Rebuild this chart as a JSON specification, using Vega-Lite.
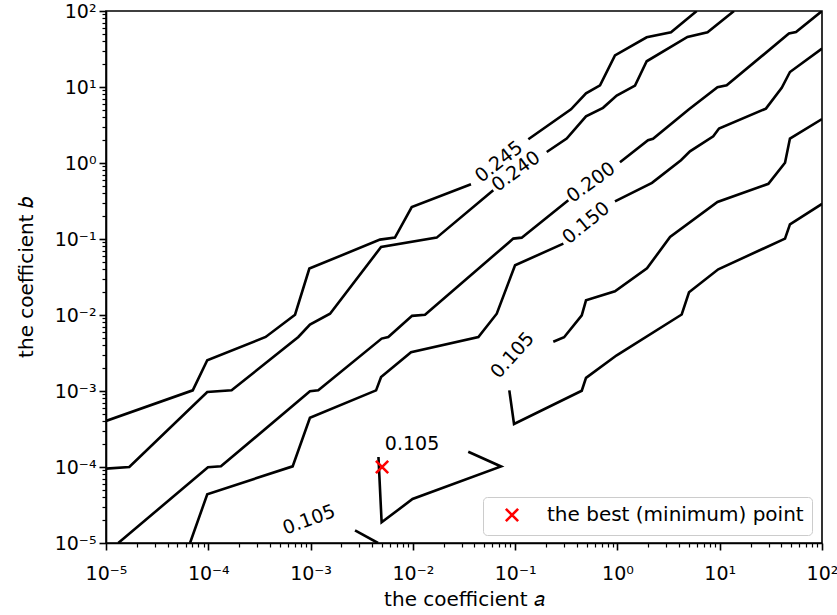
{
  "$schema": "https://vega.github.io/schema/vega-lite/v6.json",
  "autosize": {"type": "none"},
  "width": 716,
  "height": 532,
  "padding": {"left": 106, "top": 11, "right": 15, "bottom": 72},
  "background": "white",
  "config": {
    "view": {"stroke": "black", "strokeWidth": 1.6},
    "font": "DejaVu Sans",
    "axis": {
      "labelFont": "DejaVu Sans", "labelFontSize": 19, "labelColor": "black",
      "titleFont": "DejaVu Sans", "titleFontSize": 20, "titleColor": "black", "titleFontWeight": "normal",
      "grid": false, "domainColor": "black", "domainWidth": 1.6, "tickColor": "black",
      "labelOverlap": false, "labelFlush": false, "labelBound": false
    },
    "legend": {
      "orient": "none", "legendX": 377, "legendY": 486, "padding": 8,
      "strokeColor": "#cccccc", "fillColor": "rgba(255,255,255,0.8)", "cornerRadius": 4,
      "labelFont": "DejaVu Sans", "labelFontSize": 20, "labelColor": "black", "labelLimit": 0,
      "symbolSize": 150, "symbolStrokeWidth": 2.6, "symbolOffset": 11, "labelOffset": 25
    }
  },
  "datasets": {
    "contours": [
      {"seg": "A1", "i": 0, "a": 1e-5, "b": 4.03e-4},
      {"seg": "A1", "i": 1, "a": 7.05e-5, "b": 1.02e-3},
      {"seg": "A1", "i": 2, "a": 9.77e-5, "b": 2.535e-3},
      {"seg": "A1", "i": 3, "a": 3.64e-4, "b": 5.14e-3},
      {"seg": "A1", "i": 4, "a": 7.05e-4, "b": 1.01e-2},
      {"seg": "A1", "i": 5, "a": 9.73e-4, "b": 4.08e-2},
      {"seg": "A1", "i": 6, "a": 4.77e-3, "b": 9.82e-2},
      {"seg": "A1", "i": 7, "a": 6.68e-3, "b": 0.1042},
      {"seg": "A1", "i": 8, "a": 9.75e-3, "b": 0.2636},
      {"seg": "A1", "i": 9, "a": 3.70e-2, "b": 0.525},
      {"seg": "A2", "i": 0, "a": 0.1346, "b": 2.051},
      {"seg": "A2", "i": 1, "a": 0.3516, "b": 5.09},
      {"seg": "A2", "i": 2, "a": 0.493, "b": 8.26},
      {"seg": "A2", "i": 3, "a": 0.676, "b": 10.52},
      {"seg": "A2", "i": 4, "a": 0.946, "b": 26.1},
      {"seg": "A2", "i": 5, "a": 1.932, "b": 45.1},
      {"seg": "A2", "i": 6, "a": 3.34, "b": 52.5},
      {"seg": "A2", "i": 7, "a": 5.96, "b": 100},
      {"seg": "B1", "i": 0, "a": 1e-5, "b": 9.53e-5},
      {"seg": "B1", "i": 1, "a": 1.69e-5, "b": 1.0e-4},
      {"seg": "B1", "i": 2, "a": 9.77e-5, "b": 9.70e-4},
      {"seg": "B1", "i": 3, "a": 1.69e-4, "b": 1.02e-3},
      {"seg": "B1", "i": 4, "a": 7.59e-4, "b": 5.14e-3},
      {"seg": "B1", "i": 5, "a": 9.86e-4, "b": 7.48e-3},
      {"seg": "B1", "i": 6, "a": 1.55e-3, "b": 1.04e-2},
      {"seg": "B1", "i": 7, "a": 4.89e-3, "b": 7.85e-2},
      {"seg": "B1", "i": 8, "a": 1.71e-2, "b": 0.1042},
      {"seg": "B1", "i": 9, "a": 6.11e-2, "b": 0.4375},
      {"seg": "B2", "i": 0, "a": 0.2037, "b": 1.396},
      {"seg": "B2", "i": 1, "a": 0.319, "b": 2.094},
      {"seg": "B2", "i": 2, "a": 0.493, "b": 4.11},
      {"seg": "B2", "i": 3, "a": 0.723, "b": 5.32},
      {"seg": "B2", "i": 4, "a": 0.984, "b": 7.71},
      {"seg": "B2", "i": 5, "a": 1.486, "b": 10.43},
      {"seg": "B2", "i": 6, "a": 1.932, "b": 21.8},
      {"seg": "B2", "i": 7, "a": 4.84, "b": 45.5},
      {"seg": "B2", "i": 8, "a": 7.60, "b": 52.5},
      {"seg": "B2", "i": 9, "a": 13.8, "b": 100},
      {"seg": "C1", "i": 0, "a": 1.318e-5, "b": 1e-5},
      {"seg": "C1", "i": 1, "a": 9.93e-5, "b": 9.91e-5},
      {"seg": "C1", "i": 2, "a": 1.33e-4, "b": 1.02e-4},
      {"seg": "C1", "i": 3, "a": 9.86e-4, "b": 9.91e-4},
      {"seg": "C1", "i": 4, "a": 1.19e-3, "b": 1.02e-3},
      {"seg": "C1", "i": 5, "a": 4.95e-3, "b": 4.89e-3},
      {"seg": "C1", "i": 6, "a": 5.75e-3, "b": 5.14e-3},
      {"seg": "C1", "i": 7, "a": 9.82e-3, "b": 9.75e-3},
      {"seg": "C1", "i": 8, "a": 1.315e-2, "b": 1.01e-2},
      {"seg": "C1", "i": 9, "a": 9.59e-2, "b": 0.1012},
      {"seg": "C1", "i": 10, "a": 0.1159, "b": 0.1042},
      {"seg": "C1", "i": 11, "a": 0.331, "b": 0.323},
      {"seg": "C2", "i": 0, "a": 1.059, "b": 1.021},
      {"seg": "C2", "i": 1, "a": 1.991, "b": 1.99},
      {"seg": "C2", "i": 2, "a": 2.228, "b": 2.08},
      {"seg": "C2", "i": 3, "a": 5.01, "b": 5.09},
      {"seg": "C2", "i": 4, "a": 9.51, "b": 9.91},
      {"seg": "C2", "i": 5, "a": 11.7, "b": 10.52},
      {"seg": "C2", "i": 6, "a": 47.5, "b": 50.5},
      {"seg": "C2", "i": 7, "a": 55.7, "b": 52.9},
      {"seg": "C2", "i": 8, "a": 100, "b": 100},
      {"seg": "D1", "i": 0, "a": 6.63e-5, "b": 1e-5},
      {"seg": "D1", "i": 1, "a": 9.77e-5, "b": 4.375e-5},
      {"seg": "D1", "i": 2, "a": 6.68e-4, "b": 1.02e-4},
      {"seg": "D1", "i": 3, "a": 9.86e-4, "b": 4.44e-4},
      {"seg": "D1", "i": 4, "a": 4.37e-3, "b": 1.02e-3},
      {"seg": "D1", "i": 5, "a": 4.89e-3, "b": 1.528e-3},
      {"seg": "D1", "i": 6, "a": 9.60e-3, "b": 3.23e-3},
      {"seg": "D1", "i": 7, "a": 4.37e-2, "b": 5.14e-3},
      {"seg": "D1", "i": 8, "a": 6.61e-2, "b": 1.04e-2},
      {"seg": "D1", "i": 9, "a": 9.98e-2, "b": 4.51e-2},
      {"seg": "D1", "i": 10, "a": 0.296, "b": 8.69e-2},
      {"seg": "D2", "i": 0, "a": 0.946, "b": 0.313},
      {"seg": "D2", "i": 1, "a": 2.178, "b": 0.548},
      {"seg": "D2", "i": 2, "a": 4.18, "b": 1.086},
      {"seg": "D2", "i": 3, "a": 5.12, "b": 1.426},
      {"seg": "D2", "i": 4, "a": 8.65, "b": 2.245},
      {"seg": "D2", "i": 5, "a": 9.84, "b": 2.836},
      {"seg": "D2", "i": 6, "a": 28.3, "b": 5.2},
      {"seg": "D2", "i": 7, "a": 40.4, "b": 9.75},
      {"seg": "D2", "i": 8, "a": 48.6, "b": 15.75},
      {"seg": "D2", "i": 9, "a": 100, "b": 32.0},
      {"seg": "E1", "i": 0, "a": 0.236, "b": 4.44e-3},
      {"seg": "E1", "i": 1, "a": 0.301, "b": 5.09e-3},
      {"seg": "E1", "i": 2, "a": 0.448, "b": 9.91e-3},
      {"seg": "E1", "i": 3, "a": 0.493, "b": 1.56e-2},
      {"seg": "E1", "i": 4, "a": 0.946, "b": 2.05e-2},
      {"seg": "E1", "i": 5, "a": 1.945, "b": 4.11e-2},
      {"seg": "E1", "i": 6, "a": 3.27, "b": 0.1062},
      {"seg": "E1", "i": 7, "a": 9.51, "b": 0.307},
      {"seg": "E1", "i": 8, "a": 29.9, "b": 0.532},
      {"seg": "E1", "i": 9, "a": 43.5, "b": 1.007},
      {"seg": "E1", "i": 10, "a": 48.6, "b": 2.094},
      {"seg": "E1", "i": 11, "a": 100, "b": 3.79},
      {"seg": "E2", "i": 0, "a": 8.77e-2, "b": 1.02e-3},
      {"seg": "E2", "i": 1, "a": 9.75e-2, "b": 3.68e-4},
      {"seg": "E2", "i": 2, "a": 0.448, "b": 1.007e-3},
      {"seg": "E2", "i": 3, "a": 0.493, "b": 1.49e-3},
      {"seg": "E2", "i": 4, "a": 0.984, "b": 2.95e-3},
      {"seg": "E2", "i": 5, "a": 4.25, "b": 1.016e-2},
      {"seg": "E2", "i": 6, "a": 5.01, "b": 1.99e-2},
      {"seg": "E2", "i": 7, "a": 9.68, "b": 3.99e-2},
      {"seg": "E2", "i": 8, "a": 43.5, "b": 0.1012},
      {"seg": "E2", "i": 9, "a": 48.6, "b": 0.156},
      {"seg": "E2", "i": 10, "a": 100, "b": 0.29},
      {"seg": "F", "i": 0, "a": 3.48e-2, "b": 1.585e-4},
      {"seg": "F", "i": 1, "a": 7.28e-2, "b": 1.016e-4},
      {"seg": "F", "i": 2, "a": 9.93e-3, "b": 3.79e-5},
      {"seg": "F", "i": 3, "a": 4.95e-3, "b": 1.87e-5},
      {"seg": "F", "i": 4, "a": 4.61e-3, "b": 1.355e-4},
      {"seg": "G", "i": 0, "a": 2.72e-3, "b": 1.47e-5},
      {"seg": "G", "i": 1, "a": 4.56e-3, "b": 1e-5}
    ],
    "labels": [
      {"id": "L245", "text": "0.245", "a": 6.95e-2, "b": 1.037},
      {"id": "L240", "text": "0.240", "a": 0.102, "b": 0.778},
      {"id": "L200", "text": "0.200", "a": 0.552, "b": 0.557},
      {"id": "L150", "text": "0.150", "a": 0.493, "b": 0.163},
      {"id": "LE", "text": "0.105", "a": 9.42e-2, "b": 2.95e-3},
      {"id": "LF", "text": "0.105", "a": 9.82e-3, "b": 2.01e-4},
      {"id": "LG", "text": "0.105", "a": 9.66e-4, "b": 2.02e-5}
    ],
    "best": [
      {"series": "the best (minimum) point", "a": 0.005, "b": 1e-4}
    ]
  },
  "layer": [
    {
      "data": {"name": "contours"},
      "mark": {"type": "line", "color": "black", "strokeWidth": 2.6, "clip": true},
      "encoding": {
        "x": {
          "field": "a", "type": "quantitative",
          "scale": {"type": "log", "domain": [1e-5, 100], "nice": false},
          "axis": {
            "title": "the coefficient 𝑎",
            "titleX": 358, "titleY": 62, "titleBaseline": "alphabetic", "titleAnchor": "middle",
            "values": [1e-5,2e-5,3e-5,4e-5,5e-5,6e-5,7e-5,8e-5,9e-5,1e-4,2e-4,3e-4,4e-4,5e-4,6e-4,7e-4,8e-4,9e-4,0.001,0.002,0.003,0.004,0.005,0.006,0.007,0.008,0.009,0.01,0.02,0.03,0.04,0.05,0.06,0.07,0.08,0.09,0.1,0.2,0.3,0.4,0.5,0.6,0.7,0.8,0.9,1,2,3,4,5,6,7,8,9,10,20,30,40,50,60,70,80,90,100],
            "labelExpr": "abs(log(datum.value)/LN10 - round(log(datum.value)/LN10)) < 0.001 ? '10' + ['⁻⁵','⁻⁴','⁻³','⁻²','⁻¹','⁰','¹','²'][round(log(datum.value)/LN10)+5] : ''",
            "tickSize": {"condition": {"test": "abs(log(datum.value)/LN10 - round(log(datum.value)/LN10)) < 0.001", "value": 7}, "value": 4},
            "tickWidth": {"condition": {"test": "abs(log(datum.value)/LN10 - round(log(datum.value)/LN10)) < 0.001", "value": 1.6}, "value": 1.2},
            "labelPadding": 14,
            "labelBaseline": "top"
          }
        },
        "y": {
          "field": "b", "type": "quantitative",
          "scale": {"type": "log", "domain": [1e-5, 100], "nice": false},
          "axis": {
            "title": "the coefficient 𝑏",
            "titleX": -74, "titleY": 266, "titleAngle": -90, "titleBaseline": "alphabetic", "titleAlign": "center",
            "values": [1e-5,2e-5,3e-5,4e-5,5e-5,6e-5,7e-5,8e-5,9e-5,1e-4,2e-4,3e-4,4e-4,5e-4,6e-4,7e-4,8e-4,9e-4,0.001,0.002,0.003,0.004,0.005,0.006,0.007,0.008,0.009,0.01,0.02,0.03,0.04,0.05,0.06,0.07,0.08,0.09,0.1,0.2,0.3,0.4,0.5,0.6,0.7,0.8,0.9,1,2,3,4,5,6,7,8,9,10,20,30,40,50,60,70,80,90,100],
            "labelExpr": "abs(log(datum.value)/LN10 - round(log(datum.value)/LN10)) < 0.001 ? '10' + ['⁻⁵','⁻⁴','⁻³','⁻²','⁻¹','⁰','¹','²'][round(log(datum.value)/LN10)+5] : ''",
            "tickSize": {"condition": {"test": "abs(log(datum.value)/LN10 - round(log(datum.value)/LN10)) < 0.001", "value": 7}, "value": 4},
            "tickWidth": {"condition": {"test": "abs(log(datum.value)/LN10 - round(log(datum.value)/LN10)) < 0.001", "value": 1.6}, "value": 1.2},
            "labelPadding": 3,
            "labelBaseline": "middle"
          }
        },
        "detail": {"field": "seg"},
        "order": {"field": "i", "type": "quantitative"}
      }
    },
    {
      "data": {"name": "labels"},
      "transform": [{"filter": "datum.id == 'L245'"}],
      "mark": {"type": "text", "angle": -38, "fontSize": 19, "font": "DejaVu Sans", "color": "black", "align": "center", "baseline": "middle"},
      "encoding": {"x": {"field": "a", "type": "quantitative"}, "y": {"field": "b", "type": "quantitative"}, "text": {"field": "text"}}
    },
    {
      "data": {"name": "labels"},
      "transform": [{"filter": "datum.id == 'L240' || datum.id == 'L200'"}],
      "mark": {"type": "text", "angle": -36, "fontSize": 19, "font": "DejaVu Sans", "color": "black", "align": "center", "baseline": "middle"},
      "encoding": {"x": {"field": "a", "type": "quantitative"}, "y": {"field": "b", "type": "quantitative"}, "text": {"field": "text"}}
    },
    {
      "data": {"name": "labels"},
      "transform": [{"filter": "datum.id == 'L150'"}],
      "mark": {"type": "text", "angle": -39, "fontSize": 19, "font": "DejaVu Sans", "color": "black", "align": "center", "baseline": "middle"},
      "encoding": {"x": {"field": "a", "type": "quantitative"}, "y": {"field": "b", "type": "quantitative"}, "text": {"field": "text"}}
    },
    {
      "data": {"name": "labels"},
      "transform": [{"filter": "datum.id == 'LE'"}],
      "mark": {"type": "text", "angle": -48, "fontSize": 19, "font": "DejaVu Sans", "color": "black", "align": "center", "baseline": "middle"},
      "encoding": {"x": {"field": "a", "type": "quantitative"}, "y": {"field": "b", "type": "quantitative"}, "text": {"field": "text"}}
    },
    {
      "data": {"name": "labels"},
      "transform": [{"filter": "datum.id == 'LF'"}],
      "mark": {"type": "text", "angle": 0, "fontSize": 19, "font": "DejaVu Sans", "color": "black", "align": "center", "baseline": "middle"},
      "encoding": {"x": {"field": "a", "type": "quantitative"}, "y": {"field": "b", "type": "quantitative"}, "text": {"field": "text"}}
    },
    {
      "data": {"name": "labels"},
      "transform": [{"filter": "datum.id == 'LG'"}],
      "mark": {"type": "text", "angle": -20, "fontSize": 19, "font": "DejaVu Sans", "color": "black", "align": "center", "baseline": "middle"},
      "encoding": {"x": {"field": "a", "type": "quantitative"}, "y": {"field": "b", "type": "quantitative"}, "text": {"field": "text"}}
    },
    {
      "data": {"name": "best"},
      "mark": {"type": "point", "filled": false, "strokeWidth": 2.6, "size": 150, "opacity": 1},
      "encoding": {
        "x": {"field": "a", "type": "quantitative"},
        "y": {"field": "b", "type": "quantitative"},
        "color": {"field": "series", "type": "nominal", "scale": {"range": ["red"]}, "legend": {"title": null}},
        "shape": {"field": "series", "type": "nominal", "scale": {"range": ["M-1,-1L1,1M-1,1L1,-1"]}, "legend": {"title": null}}
      }
    }
  ]
}
